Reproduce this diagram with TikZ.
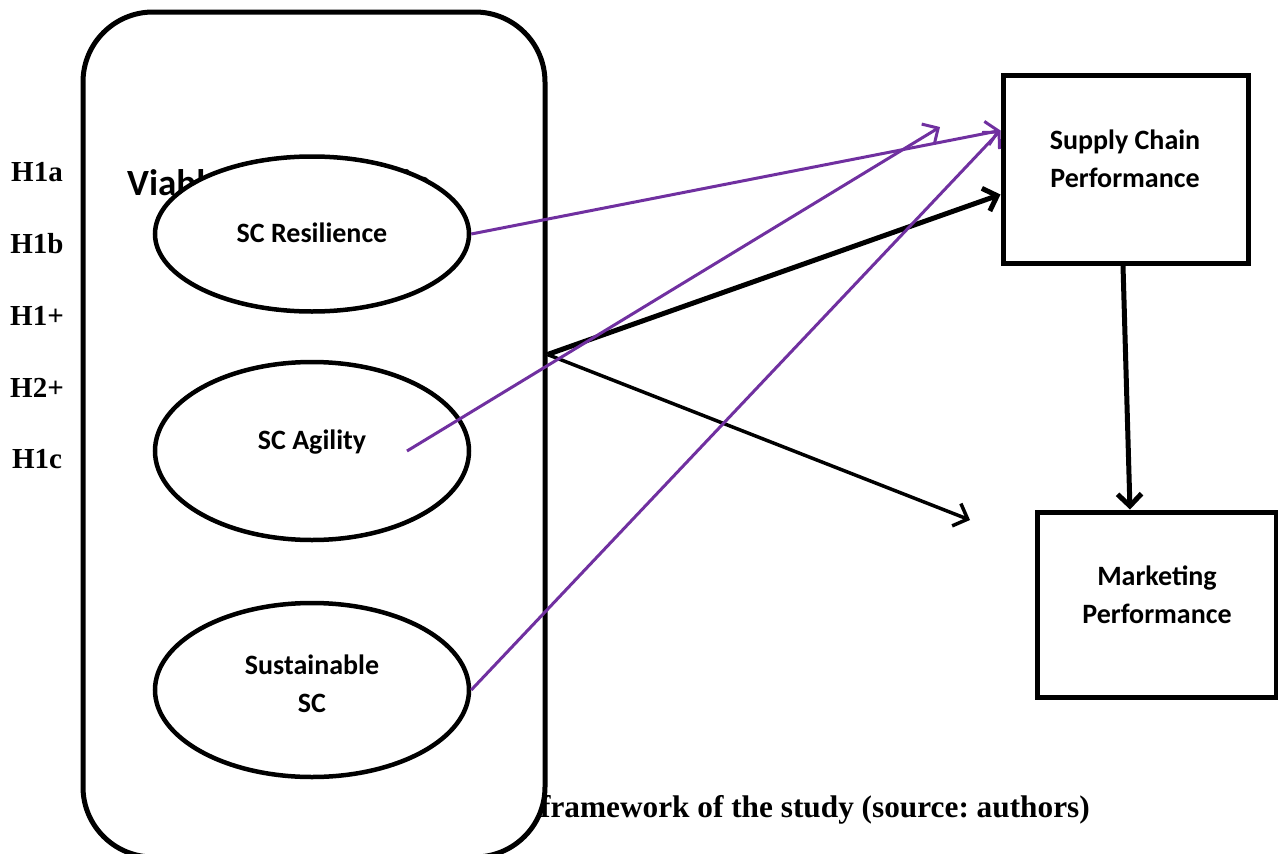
\documentclass[tikz,border=0pt]{standalone}
\usepackage{fontspec}
\setmainfont{Liberation Serif}
\newfontfamily\calfont{Carlito}
\usetikzlibrary{arrows.meta,shapes.geometric}
\definecolor{vpurple}{HTML}{7030A0}
\frenchspacing
\tikzset{
  hlab/.style={font=\bfseries\fontsize{29}{34}\selectfont, inner sep=0pt},
  capt/.style={font=\bfseries\fontsize{31.3}{36}\selectfont, inner sep=0pt},
  lab/.style={font=\calfont\bfseries\fontsize{28}{33}\selectfont, inner sep=0pt},
  ell/.style={ellipse, draw, line width=4.5pt, fill=white, inner sep=0pt},
  boxn/.style={rectangle, draw, line width=5pt, fill=white, inner sep=0pt},
  container/.style={rectangle, draw, line width=5pt, fill=white, rounded corners=70pt, inner sep=0pt,
     minimum width=462pt, minimum height=845pt},
  tipb/.style={-{Straight Barb[length=12pt,width=24pt]}},
  parr/.style={tipb, draw=vpurple, line width=3pt},
  barrthick/.style={tipb, draw=black, line width=5pt},
  barrthin/.style={tipb, draw=black, line width=3.5pt},
}
\begin{document}
\begin{tikzpicture}[x=1pt,y=-1pt]
\useasboundingbox (0,0) rectangle (1278,854);
% hypothesis labels
\node[hlab] (h1a) at (37,172) {H1a};
\node[hlab] (h1b) at (37,244) {H1b};
\node[hlab] (h1p) at (37,316) {H1+};
\node[hlab] (h2p) at (37,388) {H2+};
\node[hlab] (h1c) at (37,459) {H1c};
% caption (partly hidden by the container)
\node[capt, anchor=east] (cap) at (1090,810) {Conceptual framework of the study (source: authors)};
% container
\node[container] (vsc) at (314,434.5) {};
\node[font=\calfont\bfseries\fontsize{37}{42}\selectfont, anchor=west, inner sep=0pt] (vsctitle) at (127,185) {Viable Supply Chain};
% ellipses
\node[ell, minimum width=314pt, minimum height=155pt] (res) at (312,234) {};
\node[lab] (rest) at (312,233) {SC Resilience};
\node[ell, minimum width=314pt, minimum height=178pt] (agi) at (312,451) {};
\node[lab] (agit) at (312,442) {SC Agility};
\node[ell, minimum width=314pt, minimum height=174pt] (sus) at (312,690) {};
\node[lab, align=center] (sust) at (312,684) {Sustainable\\[5pt]SC};
% boxes
\node[boxn, minimum width=245pt, minimum height=188pt] (scp) at (1125.5,169) {};
\node[lab, align=center] (scpt) at (1125,159) {Supply Chain\\[5pt]Performance};
\node[boxn, minimum width=239pt, minimum height=185pt] (mkt) at (1156.5,604.5) {};
\node[lab, align=center] (mktt) at (1157,595) {Marketing\\[5pt]Performance};
% connector points
\coordinate (scpin) at ([yshift=-58pt]scp.north west);
\coordinate (scpin2) at ([yshift=-122pt]scp.north west);
\coordinate (vscout) at ([yshift=80pt]vsc.east);
\coordinate (agistart) at (407,451);
\coordinate (free1) at (940,127);
\coordinate (free2) at (970,520);
% black arrows
\draw[barrthin] (vscout) -- (free2);
\draw[barrthick] (vscout) -- (scpin2);
\draw[barrthick] ([xshift=-2.5pt]scp.south) -- ([xshift=-26.5pt]mkt.north);
% purple arrows
\draw[parr] (res.east) -- (scpin);
\draw[parr] (agistart) -- (free1);
\draw[parr] (sus.east) -- (scpin);
\end{tikzpicture}
\end{document}
